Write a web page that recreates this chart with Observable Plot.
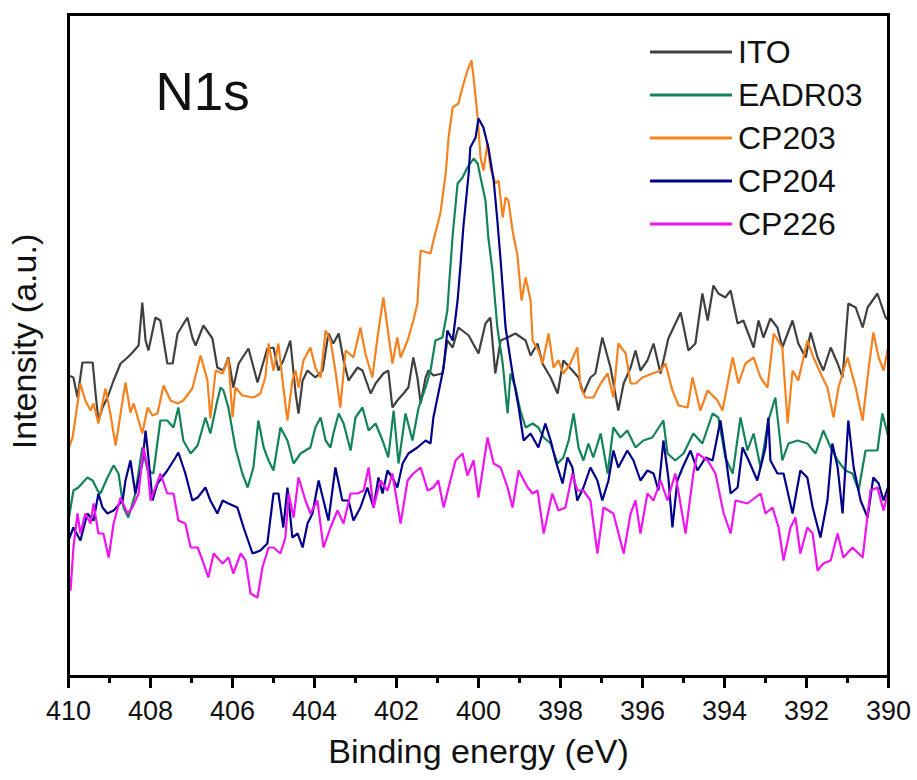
<!DOCTYPE html>
<html>
<head>
<meta charset="utf-8">
<script src="https://cdn.jsdelivr.net/npm/d3@7"></script>
<script src="https://cdn.jsdelivr.net/npm/@observablehq/plot@0.6"></script>
<style>
  body { margin: 0; background: #fff; }
  #wrap { position: relative; width: 917px; height: 780px; font-family: "Liberation Sans", Arial, sans-serif; }
  #legend { position: absolute; left: 650px; top: 30px; }
  .row { display: flex; align-items: center; height: 43px; }
  .row svg { width: 82px; height: 10px; margin-right: 6px; }
  .row span { font-size: 32px; color: #111; line-height: 1; }
</style>
</head>
<body>
<div id="wrap"></div>
<script>
// Binding energy (eV), intensity (a.u.)
const ito = [[410.00,301],[409.88,299],[409.78,279],[409.66,314],[409.41,314],[409.34,283],[409.27,256],[409.17,269],[409.05,279],[408.90,296],[408.73,313],[408.56,319],[408.44,324],[408.29,331],[408.20,374],[408.12,336],[408.05,326],[407.88,359],[407.76,356],[407.59,313],[407.46,313],[407.34,343],[407.10,359],[406.98,339],[406.90,331],[406.71,351],[406.49,338],[406.37,309],[406.22,306],[406.10,319],[405.98,289],[405.85,313],[405.61,328],[405.39,294],[405.15,328],[405.00,329],[404.88,306],[404.76,316],[404.59,336],[404.46,283],[404.39,263],[404.29,296],[404.17,306],[403.98,299],[403.80,306],[403.66,343],[403.54,333],[403.41,343],[403.29,316],[403.17,296],[402.95,309],[402.83,306],[402.63,283],[402.51,293],[402.32,303],[402.20,306],[402.10,269],[401.98,276],[401.83,283],[401.71,289],[401.59,319],[401.49,299],[401.41,273],[401.29,299],[401.22,306],[401.10,301],[400.88,303],[400.76,336],[400.63,329],[400.49,349],[400.24,341],[400.00,323],[399.83,353],[399.71,359],[399.59,303],[399.46,336],[399.29,339],[399.10,343],[398.85,336],[398.73,321],[398.56,333],[398.44,313],[398.24,299],[398.07,283],[397.93,316],[397.71,306],[397.56,299],[397.44,283],[397.27,299],[397.15,303],[396.98,339],[396.78,309],[396.59,266],[396.46,293],[396.29,309],[396.17,326],[396.05,306],[395.88,316],[395.73,333],[395.56,303],[395.37,338],[395.07,364],[394.88,326],[394.71,333],[394.54,383],[394.41,356],[394.27,391],[394.15,383],[393.98,379],[393.85,386],[393.68,353],[393.54,356],[393.29,329],[393.17,356],[393.05,339],[392.88,358],[392.71,349],[392.59,329],[392.34,356],[392.20,333],[392.02,319],[391.90,344],[391.73,319],[391.59,306],[391.41,329],[391.24,313],[391.12,299],[390.98,373],[390.80,369],[390.63,349],[390.51,369],[390.27,383],[390.07,359],[390.00,356]];

const eadr03 = [[410.00,156],[409.88,186],[409.76,189],[409.54,199],[409.41,196],[409.29,186],[409.22,183],[409.05,199],[408.90,211],[408.78,203],[408.66,169],[408.54,159],[408.37,183],[408.20,229],[408.07,206],[407.93,203],[407.76,256],[407.59,256],[407.44,249],[407.32,269],[407.20,236],[407.02,223],[406.85,231],[406.66,259],[406.54,243],[406.37,276],[406.29,289],[406.22,286],[406.10,269],[405.93,229],[405.76,203],[405.63,189],[405.49,209],[405.37,256],[405.24,229],[405.12,216],[405.00,206],[404.83,249],[404.66,236],[404.51,213],[404.34,223],[404.10,229],[403.98,249],[403.85,259],[403.73,236],[403.61,229],[403.54,243],[403.41,263],[403.29,253],[403.12,226],[403.00,259],[402.83,269],[402.68,246],[402.51,253],[402.34,236],[402.20,219],[402.07,266],[401.95,213],[401.78,263],[401.61,236],[401.46,269],[401.29,289],[401.17,306],[401.05,336],[400.88,339],[400.76,366],[400.71,396],[400.63,441],[400.51,493],[400.39,499],[400.27,509],[400.12,518],[400.02,513],[399.95,499],[399.83,476],[399.76,439],[399.66,406],[399.54,349],[399.41,313],[399.29,263],[399.22,303],[399.10,289],[398.98,266],[398.85,249],[398.68,253],[398.54,249],[398.41,239],[398.24,233],[398.07,213],[397.93,219],[397.80,236],[397.68,263],[397.56,229],[397.44,216],[397.32,233],[397.20,219],[397.02,243],[396.85,203],[396.71,249],[396.54,239],[396.37,246],[396.17,229],[395.98,236],[395.76,239],[395.49,256],[395.39,223],[395.20,216],[395.00,223],[394.76,243],[394.54,233],[394.29,263],[394.15,259],[393.98,219],[393.80,203],[393.61,259],[393.44,226],[393.29,243],[393.12,209],[392.93,256],[392.76,279],[392.59,216],[392.44,233],[392.22,236],[391.98,233],[391.78,223],[391.59,246],[391.41,229],[391.24,216],[391.05,206],[390.88,203],[390.73,186],[390.56,226],[390.27,226],[390.15,263],[390.00,239]];

const cp203 = [[410.00,228],[409.90,239],[409.71,293],[409.59,276],[409.46,266],[409.39,273],[409.27,253],[409.10,288],[408.98,263],[408.85,231],[408.73,263],[408.61,294],[408.49,264],[408.41,273],[408.20,243],[408.07,269],[407.95,261],[407.83,263],[407.68,291],[407.51,276],[407.34,273],[407.20,276],[406.98,288],[406.78,321],[406.61,296],[406.54,258],[406.41,306],[406.24,303],[406.10,318],[406.00,259],[405.93,289],[405.76,281],[405.49,279],[405.32,283],[405.20,299],[405.12,333],[405.00,306],[404.88,333],[404.76,289],[404.66,256],[404.54,296],[404.46,306],[404.39,289],[404.27,316],[404.10,329],[403.98,309],[403.85,299],[403.73,346],[403.61,336],[403.49,306],[403.37,269],[403.24,326],[403.05,319],[402.88,349],[402.76,323],[402.59,299],[402.44,346],[402.32,379],[402.20,343],[402.10,313],[401.98,339],[401.90,319],[401.73,336],[401.59,356],[401.49,373],[401.46,396],[401.41,426],[401.17,423],[401.10,436],[400.93,463],[400.80,503],[400.73,539],[400.63,569],[400.49,573],[400.39,589],[400.27,606],[400.17,616],[400.12,599],[400.07,579],[400.02,559],[399.95,519],[399.88,506],[399.78,533],[399.71,509],[399.59,493],[399.51,496],[399.41,459],[399.34,479],[399.27,476],[399.17,446],[399.05,421],[398.95,376],[398.85,399],[398.73,376],[398.68,336],[398.54,326],[398.44,313],[398.29,343],[398.17,309],[398.05,316],[397.93,303],[397.76,313],[397.59,329],[397.51,289],[397.39,279],[397.20,279],[397.02,293],[396.85,303],[396.71,279],[396.59,333],[396.41,323],[396.29,293],[396.17,293],[396.00,299],[395.76,303],[395.56,306],[395.44,313],[395.27,286],[395.12,271],[394.90,269],[394.78,299],[394.59,266],[394.41,286],[394.17,276],[394.05,266],[393.80,319],[393.66,293],[393.49,313],[393.29,319],[393.12,299],[392.95,289],[392.80,343],[392.59,329],[392.46,253],[392.34,306],[392.20,296],[391.98,336],[391.83,319],[391.61,299],[391.49,289],[391.34,259],[391.22,289],[391.00,319],[390.80,289],[390.63,256],[390.49,306],[390.37,344],[390.24,319],[390.12,306],[390.00,331]];

const cp204 = [[410.00,136],[409.88,149],[409.71,136],[409.54,163],[409.39,156],[409.27,183],[409.17,169],[409.05,163],[408.90,166],[408.68,176],[408.61,196],[408.49,216],[408.37,183],[408.20,213],[408.12,246],[408.05,219],[407.95,176],[407.83,193],[407.59,206],[407.39,219],[407.32,224],[407.15,203],[406.98,176],[406.85,179],[406.66,189],[406.54,176],[406.37,163],[406.24,176],[406.10,173],[405.88,169],[405.73,149],[405.51,123],[405.32,126],[405.15,133],[405.00,183],[404.88,183],[404.76,149],[404.66,189],[404.54,139],[404.41,143],[404.29,129],[404.17,153],[404.05,163],[403.90,196],[403.78,176],[403.66,156],[403.49,209],[403.32,176],[403.17,176],[403.05,156],[402.88,169],[402.71,189],[402.56,169],[402.44,199],[402.34,183],[402.22,206],[402.10,199],[401.98,189],[401.85,213],[401.71,223],[401.49,229],[401.29,236],[401.17,233],[401.10,259],[400.98,283],[400.85,309],[400.76,346],[400.63,336],[400.51,376],[400.44,411],[400.37,449],[400.24,503],[400.20,529],[400.07,539],[400.00,558],[399.88,549],[399.76,529],[399.63,496],[399.54,456],[399.46,416],[399.34,349],[399.17,303],[399.02,269],[398.90,236],[398.73,243],[398.54,229],[398.37,253],[398.24,236],[398.12,216],[397.95,193],[397.83,219],[397.71,209],[397.59,176],[397.44,189],[397.27,209],[397.10,196],[396.98,176],[396.83,196],[396.71,226],[396.59,209],[396.37,226],[396.22,216],[396.05,196],[395.88,206],[395.73,203],[395.61,186],[395.49,236],[395.37,199],[395.27,149],[395.15,196],[395.02,209],[394.83,226],[394.66,206],[394.46,219],[394.29,216],[394.10,256],[393.98,223],[393.85,183],[393.68,189],[393.56,229],[393.41,216],[393.20,196],[393.00,229],[392.93,259],[392.88,216],[392.71,203],[392.56,203],[392.34,163],[392.15,206],[391.98,199],[391.85,169],[391.66,139],[391.49,176],[391.37,233],[391.24,209],[391.12,163],[390.98,256],[390.85,209],[390.68,176],[390.51,159],[390.37,199],[390.24,193],[390.12,176],[390.00,191]];

const cp226 = [[410.00,103],[409.95,86],[409.88,129],[409.78,163],[409.71,143],[409.59,163],[409.46,153],[409.39,173],[409.27,143],[409.15,143],[409.02,119],[408.90,153],[408.73,179],[408.56,163],[408.44,169],[408.29,183],[408.17,229],[408.07,209],[408.00,176],[407.88,189],[407.76,203],[407.59,183],[407.44,183],[407.32,156],[407.15,153],[407.02,129],[406.85,129],[406.73,116],[406.59,99],[406.46,123],[406.24,113],[406.10,119],[405.98,103],[405.80,123],[405.68,116],[405.56,83],[405.39,79],[405.27,109],[405.12,129],[405.00,129],[404.83,123],[404.71,139],[404.63,183],[404.51,159],[404.39,199],[404.22,176],[404.10,163],[403.93,176],[403.78,129],[403.61,149],[403.44,166],[403.29,153],[403.12,183],[402.95,183],[402.80,186],[402.68,209],[402.56,169],[402.39,196],[402.22,186],[402.10,203],[401.90,153],[401.73,196],[401.59,203],[401.41,209],[401.24,186],[401.10,189],[400.98,196],[400.85,169],[400.73,189],[400.56,216],[400.39,223],[400.27,201],[400.12,216],[400.00,179],[399.78,239],[399.63,213],[399.46,209],[399.29,189],[399.17,169],[399.02,206],[398.80,189],[398.68,183],[398.56,186],[398.41,143],[398.20,183],[398.05,166],[397.88,169],[397.71,203],[397.59,186],[397.44,186],[397.27,176],[397.10,123],[396.95,169],[396.71,163],[396.46,123],[396.29,163],[396.17,176],[396.05,143],[395.88,183],[395.73,176],[395.56,196],[395.39,176],[395.20,203],[394.95,143],[394.76,203],[394.66,223],[394.41,216],[394.22,203],[394.02,163],[393.85,143],[393.73,176],[393.44,173],[393.12,183],[393.00,163],[392.83,169],[392.68,149],[392.56,116],[392.39,149],[392.27,159],[392.15,123],[391.98,149],[391.85,143],[391.73,106],[391.59,113],[391.41,116],[391.24,143],[391.10,119],[390.88,129],[390.63,119],[390.44,186],[390.27,189],[390.12,166],[390.02,183]];

const seriesNames = ["ITO", "EADR03", "CP203", "CP204", "CP226"];
const seriesData = [ito, eadr03, cp203, cp204, cp226];
const seriesColors = ["#404040", "#13835a", "#f5821f", "#00008b", "#f014f0"];
const majorTicks = [410, 408, 406, 404, 402, 400, 398, 396, 394, 392, 390];
const minorTicks = [409, 407, 405, 403, 401, 399, 397, 395, 393, 391];

const rows = seriesNames.flatMap((name, k) => seriesData[k].map(([e, v]) => ({series: name, e, v})));

const font = "'Liberation Sans', Arial, sans-serif";
const chart = Plot.plot({
  width: 917,
  height: 780,
  marginLeft: 68,
  marginRight: 29,
  marginTop: 14,
  marginBottom: 104,
  style: {fontFamily: font, background: "white", color: "#111"},
  x: {domain: [410, 390]},
  y: {domain: [0, 662], axis: null},
  color: {domain: seriesNames, range: seriesColors},
  marks: [
    Plot.line(rows, {x: "e", y: "v", z: "series", stroke: "series", strokeWidth: 2.2, strokeLinejoin: "miter"}),
    Plot.axisX({ticks: minorTicks, tickSize: 7, strokeWidth: 3, stroke: "black", text: null, label: null}),
    Plot.axisX({ticks: majorTicks, tickSize: 12, tickPadding: 12, strokeWidth: 3, stroke: "black", fontSize: 27, fill: "#111", tickFormat: d => String(d), label: null}),
    Plot.frame({stroke: "black", strokeWidth: 3}),
    Plot.text(["Binding energy (eV)"], {frameAnchor: "bottom", dy: 86, fontSize: 34, fill: "#111"}),
    Plot.text(["Intensity (a.u.)"], {frameAnchor: "left", dx: -43, dy: -4, rotate: -90, textAnchor: "middle", fontSize: 34, fill: "#111"}),
    Plot.text(["N1s"], {frameAnchor: "top-left", dx: 87, dy: 58, lineAnchor: "top", textAnchor: "start", fontSize: 53, fill: "#111"})
  ]
});

const wrap = document.getElementById("wrap");
wrap.appendChild(chart);
const legend = document.createElement("div");
legend.id = "legend";
seriesNames.forEach((name, k) => {
  const row = document.createElement("div");
  row.className = "row";
  row.innerHTML = `<svg viewBox="0 0 82 10"><line x1="0" x2="82" y1="5" y2="5" stroke="${seriesColors[k]}" stroke-width="3"/></svg><span>${name}</span>`;
  legend.appendChild(row);
});
wrap.appendChild(legend);
</script>
</body>
</html>
